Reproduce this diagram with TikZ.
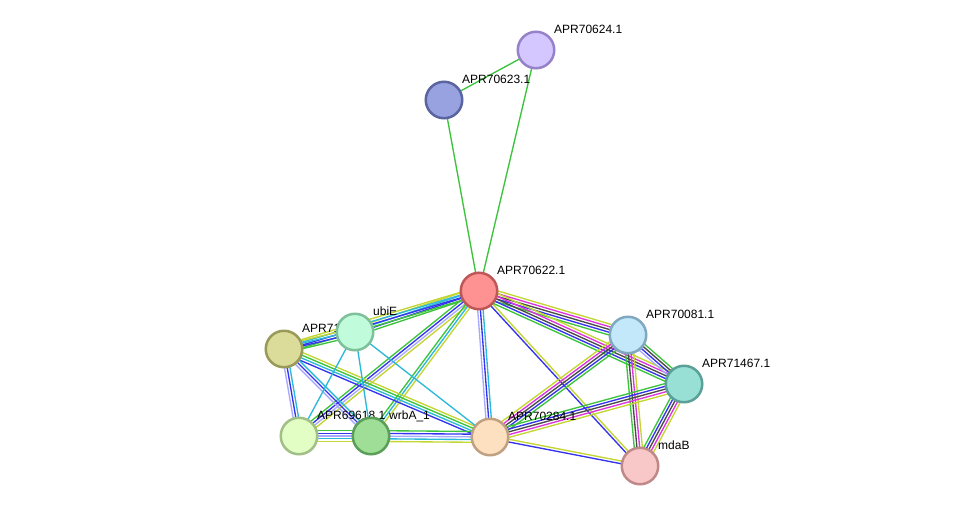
\documentclass[tikz,border=0pt]{standalone}
\usepackage{fontspec}
\setmainfont{Liberation Sans}
\usetikzlibrary{calc,backgrounds}
\definecolor{ctm}{HTML}{C4D632}
\definecolor{cdb}{HTML}{2CB9D9}
\definecolor{cex}{HTML}{DD33DD}
\definecolor{cco}{HTML}{4A4A4A}
\definecolor{cnb}{HTML}{3DC43D}
\definecolor{ccc}{HTML}{3434EE}
\definecolor{chm}{HTML}{A8A8FF}
\tikzset{
  prot/.style={circle, minimum size=36.5pt, inner sep=0pt, line width=2.5pt},
  lab/.style={font=\fontsize{12}{14}\selectfont, anchor=base west, inner sep=0pt},
  edge/.style={line width=1.35pt}
}
\newcommand\plab[2]{\node[lab] (#1lab) at ($(#1.center)+(18,-17)$) {#2};}
\newcommand\bund[3]{%
  \gdef\nnn{0}%
  \foreach \c in {#3}{\xdef\nnn{\the\numexpr\nnn+1\relax}}%
  \foreach \c [count=\i] in {#3}{%
    \pgfmathsetmacro\off{(\i-1-(\nnn-1)/2)*2.7}%
    \draw[edge, color=\c] ($(#1.center)!\off pt!90:(#2.center)$) -- ($(#2.center)!\off pt!-90:(#1.center)$);
  }}
\begin{document}
\begin{tikzpicture}[x=1pt,y=-1pt]
\useasboundingbox (0,0) rectangle (975,512);
\node[prot, fill={rgb,255:red,212;green,198;blue,254}, draw={rgb,255:red,150;green,130;blue,200}] (n624) at (536,50) {};
\plab{n624}{APR70624.1}
\node[prot, fill={rgb,255:red,152;green,162;blue,224}, draw={rgb,255:red,90;green,100;blue,160}] (n623) at (444,100) {};
\plab{n623}{APR70623.1}
\node[prot, fill={rgb,255:red,254;green,146;blue,146}, draw={rgb,255:red,190;green,88;blue,88}] (n622) at (479,291) {};
\plab{n622}{APR70622.1}
\node[prot, fill={rgb,255:red,220;green,220;blue,154}, draw={rgb,255:red,154;green,154;blue,88}] (a71) at (284,349) {};
\plab{a71}{APR71}
\node[prot, fill={rgb,255:red,192;green,252;blue,220}, draw={rgb,255:red,126;green,192;blue,154}] (ubi) at (355,332) {};
\plab{ubi}{ubiE}
\node[prot, fill={rgb,255:red,194;green,232;blue,250}, draw={rgb,255:red,128;green,168;blue,192}] (n081) at (628,335) {};
\plab{n081}{APR70081.1}
\node[prot, fill={rgb,255:red,152;green,224;blue,214}, draw={rgb,255:red,90;green,160;blue,152}] (n467) at (684,384) {};
\plab{n467}{APR71467.1}
\node[prot, fill={rgb,255:red,226;green,254;blue,196}, draw={rgb,255:red,160;green,192;blue,136}] (n618) at (299,436) {};
\plab{n618}{APR69618.1}
\node[prot, fill={rgb,255:red,158;green,222;blue,150}, draw={rgb,255:red,90;green,158;blue,88}] (wrb) at (371,436) {};
\plab{wrb}{wrbA\_1}
\node[prot, fill={rgb,255:red,253;green,224;blue,192}, draw={rgb,255:red,192;green,160;blue,128}] (n284) at (490,437) {};
\plab{n284}{APR70284.1}
\node[prot, fill={rgb,255:red,248;green,200;blue,200}, draw={rgb,255:red,192;green,136;blue,136}] (mda) at (640,466) {};
\plab{mda}{mdaB}
\begin{pgfonlayer}{background}
\fill[white] (0,0) rectangle (975,512);
\bund{n624}{n623}{cnb}
\bund{n624}{n622}{cnb}
\bund{n623}{n622}{cnb}
\bund{n622}{ubi}{ctm,cdb,ccc,cnb}
\bund{n622}{a71}{ctm,cdb,ccc,cnb}
\bund{ubi}{a71}{ctm,cdb,ccc,cnb}
\bund{n622}{n618}{cnb,ccc,chm,ctm}
\bund{n622}{wrb}{cnb,cdb,ctm}
\bund{n622}{n284}{chm,ccc,cdb}
\bund{n622}{mda}{ccc,ctm}
\bund{n622}{n081}{cnb,ccc,cco,cex,ctm}
\bund{n622}{n467}{cnb,ccc,cco,cex,ctm}
\bund{n081}{n467}{chm,ccc,cco,cnb}
\bund{n081}{n284}{ctm,cex,cco,ccc,cnb}
\bund{n081}{mda}{cnb,cco,cex,ctm}
\bund{n467}{n284}{cnb,ccc,cco,cex,ctm}
\bund{n467}{mda}{cnb,ccc,cco,cex,ctm}
\bund{n284}{mda}{ccc,ctm}
\bund{a71}{n284}{ccc,cdb,cnb,ctm}
\bund{a71}{n618}{chm,ccc,cdb}
\bund{a71}{wrb}{chm,ccc,cdb}
\bund{ubi}{n618}{cdb}
\bund{ubi}{wrb}{cdb}
\bund{ubi}{n284}{cdb}
\bund{n618}{wrb}{ctm,cdb,chm,ccc,cnb}
\bund{wrb}{n284}{ctm,cdb,chm,ccc,cnb}
\end{pgfonlayer}
\end{tikzpicture}
\end{document}
